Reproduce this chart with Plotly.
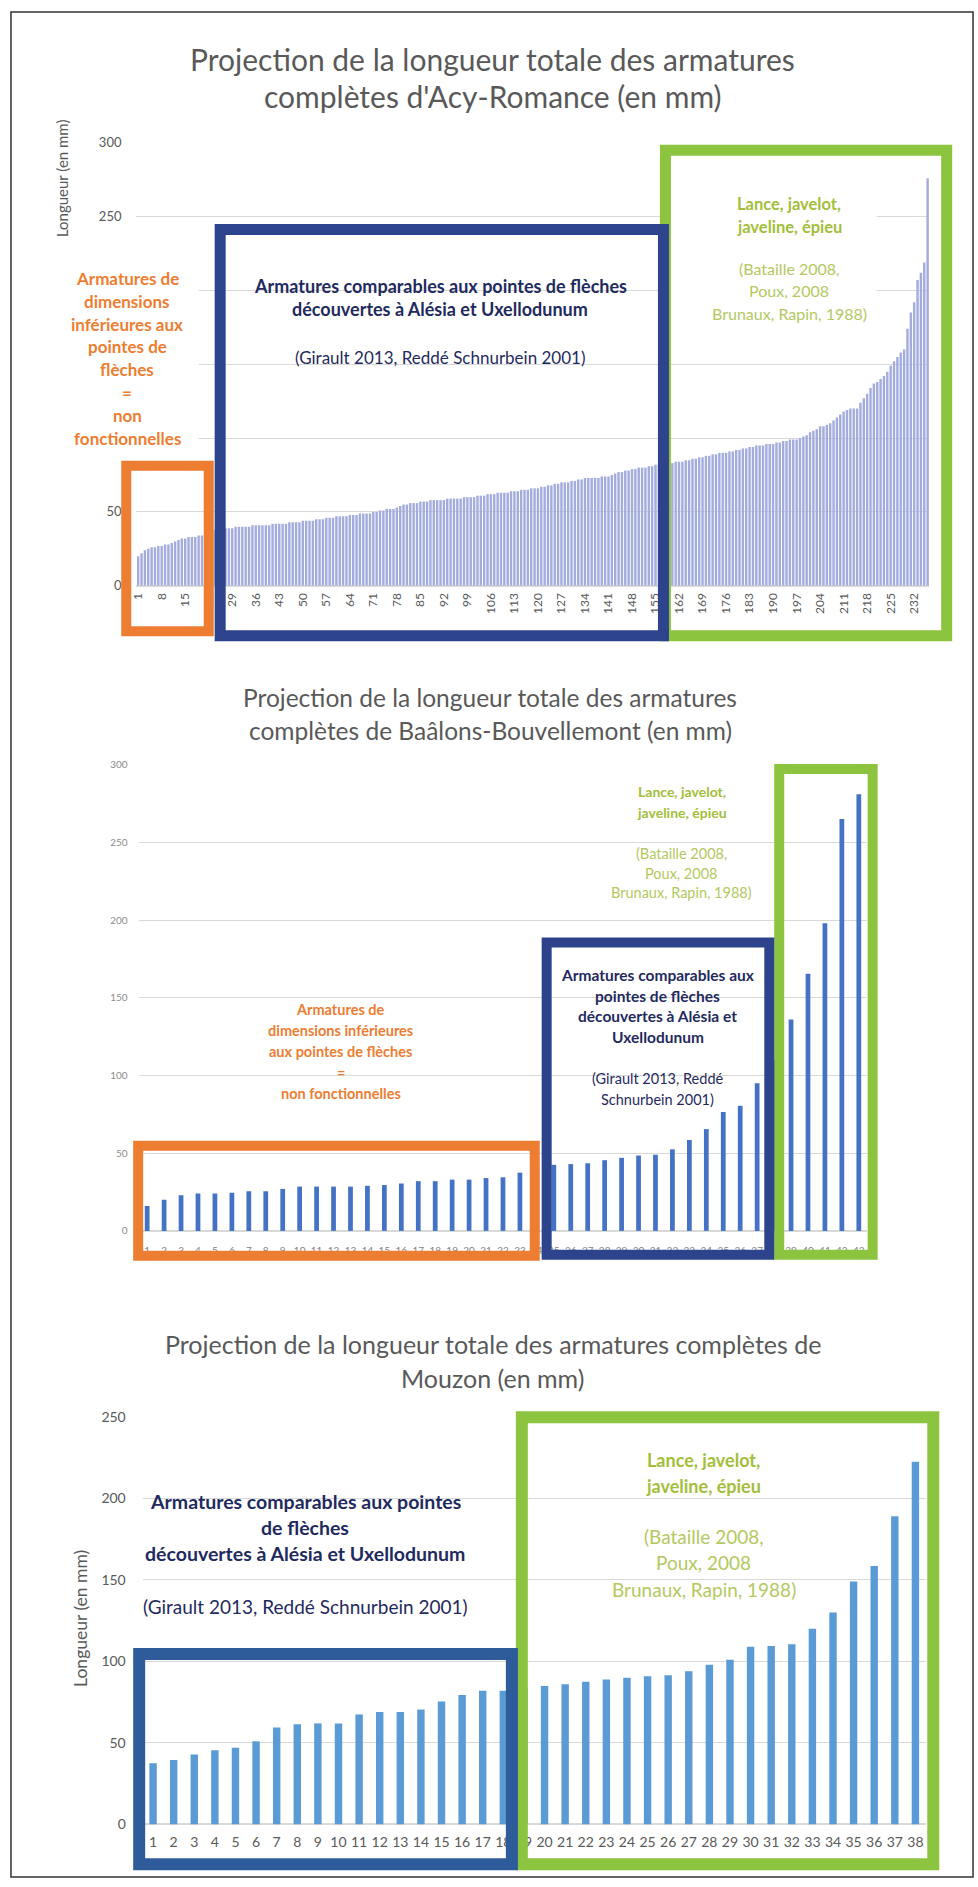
import plotly.graph_objects as go

W, H = 978, 1887
FONT = "Lato, 'Open Sans', sans-serif"

# ---------------- data ----------------
acy_values = [
    20, 22, 24, 25, 26, 26, 27, 27, 28, 28,
    29, 30, 31, 32, 32, 33, 33, 33, 34, 34,
    35, 37, 38, 38, 38, 39, 39, 39, 39, 40,
    40, 40, 40, 40, 41, 41, 41, 41, 41, 41,
    42, 42, 42, 42, 42, 43, 43, 43, 43, 44,
    44, 44, 44, 45, 45, 45, 46, 46, 46, 47,
    47, 47, 47, 48, 48, 48, 49, 49, 49, 49,
    50, 50, 51, 51, 52, 52, 52, 53, 54, 55,
    55, 56, 56, 56, 57, 57, 57, 58, 58, 58,
    58, 58, 59, 59, 59, 59, 59, 60, 60, 60,
    60, 61, 61, 61, 62, 62, 62, 63, 63, 63,
    63, 64, 64, 64, 65, 65, 65, 66, 66, 66,
    67, 67, 68, 68, 69, 69, 70, 70, 70, 71,
    71, 72, 72, 73, 73, 73, 73, 73, 74, 74,
    74, 75, 76, 77, 77, 78, 78, 79, 79, 80,
    80, 80, 81, 81, 82, 82, 82, 83, 83, 83,
    84, 84, 84, 85, 85, 86, 86, 87, 87, 88,
    88, 89, 89, 90, 90, 90, 91, 91, 92, 92,
    93, 93, 94, 94, 95, 95, 95, 96, 96, 96,
    97, 97, 98, 98, 99, 99, 99, 100, 101, 102,
    104, 105, 106, 108, 108, 109, 110, 112, 114, 116,
    118, 119, 120, 120, 120, 124, 127, 130, 134, 137,
    138, 140, 142, 145, 149, 152, 155, 158, 160, 174,
    185, 192, 207, 212, 219, 276,
]
acy_ids = list(range(1, len(acy_values) + 1))
acy_tick_labels = [1, 8, 15, 22, 29, 36, 43, 50, 57, 64, 71, 78, 85, 92, 99,
                   106, 113, 120, 127, 134, 141, 148, 155, 162, 169, 176, 183,
                   190, 197, 204, 211, 218, 225, 232]
# y labels of the top chart: 100-200 are hidden behind the orange legend text
acy_y_ticks = [0, 50, 100, 150, 200, 250, 300]
acy_y_text = ["0", "50", "", "", "", "250", "300"]

baalons_values = [16, 20, 23, 24, 24, 24.5, 25.5, 25.5, 27, 28.5,
                  28.5, 28.5, 28.5, 29, 29.5, 30.5, 32, 32, 33, 33,
                  34, 34.5, 37.5, 40, 42.5, 43, 43.5, 45.5, 47, 48.5,
                  49, 52.5, 58.5, 65.5, 76.5, 80.5, 95, 110, 136, 165.5,
                  198, 265, 281]
baalons_ids = list(range(1, len(baalons_values) + 1))

mouzon_values = [37.5, 39.5, 43, 45.5, 47, 51, 59.5, 61.5, 62, 62,
                 67.5, 69, 69, 70.5, 75.5, 79.5, 82, 82, 84, 85,
                 86, 87.5, 89, 90, 91, 91.5, 94, 98, 101, 109,
                 109.5, 110.5, 120, 130, 149, 158.5, 189, 222.5]
mouzon_ids = list(range(1, len(mouzon_values) + 1))

titles = {
    "acy": ["Projection de la longueur totale des armatures",
            "complètes d'Acy-Romance (en mm)"],
    "baalons": ["Projection de la longueur totale des armatures",
                "complètes de Baâlons-Bouvellemont (en mm)"],
    "mouzon": ["Projection de la longueur totale des armatures complètes de",
               "Mouzon (en mm)"],
}

# ---------------- helpers ----------------
def fx(p):
    return p / W


def fy(p):
    return 1 - p / H


ORANGE = "#ED7D31"
NAVY = "#2D438C"
NAVY_TXT = "#1F2A5E"
STEEL = "#2E5C9B"
GREEN = "#8CC43F"
GREEN_TXT = "#A3BE3A"
GREEN_TXT2 = "#B3C960"
GREY = "#595959"
GRID = "#D9D9D9"

annotations = []
shapes = []


def add_lines(lines, cx, y0, dy, size, color, bold=False):
    for i, t in enumerate(lines):
        txt = f"<b>{t}</b>" if bold else t
        annotations.append(dict(text=txt, x=fx(cx), y=fy(y0 + i * dy), xref="paper", yref="paper",
                                xanchor="center", yanchor="middle", showarrow=False,
                                borderpad=0,
                                font=dict(family=FONT, size=size, color=color)))


def add_box(x0, x1, y0, y1, color, width):
    shapes.append(dict(type="rect", xref="paper", yref="paper",
                       x0=fx(x0), x1=fx(x1), y0=fy(y1), y1=fy(y0),
                       line=dict(color=color, width=width), layer="above"))


def add_white(x0, x1, y0, y1):
    shapes.append(dict(type="rect", xref="paper", yref="paper",
                       x0=fx(x0), x1=fx(x1), y0=fy(y1), y1=fy(y0),
                       fillcolor="white", line=dict(width=0), layer="above"))


# ---------------- traces ----------------
fig = go.Figure()
fig.add_trace(go.Bar(x=acy_ids, y=acy_values, xaxis="x", yaxis="y",
                     marker=dict(color="#A3ACDD", line=dict(width=0)), width=0.72))
fig.add_trace(go.Bar(x=baalons_ids, y=baalons_values, xaxis="x2", yaxis="y2",
                     marker=dict(color="#4472C4", line=dict(width=0)), width=0.28))
fig.add_trace(go.Bar(x=mouzon_ids, y=mouzon_values, xaxis="x3", yaxis="y3",
                     marker=dict(color="#5B9BD5", line=dict(width=0)), width=0.36))

# ---------------- text ----------------
add_lines(titles["acy"], 490, 50, 38, 30, GREY)
add_lines(titles["baalons"], 487, 695, 33, 24.5, GREY)
add_lines(titles["mouzon"], 490, 1347, 34, 25, GREY)

annotations.append(dict(text="Longueur (en mm)", x=fx(57), y=fy(171), xref="paper", yref="paper",
                        textangle=-90, showarrow=False, xanchor="center", yanchor="middle",
                        font=dict(family=FONT, size=15, color=GREY)))
annotations.append(dict(text="Longueur (en mm)", x=fx(75), y=fy(1624), xref="paper", yref="paper",
                        textangle=-90, showarrow=False, xanchor="center", yanchor="middle",
                        font=dict(family=FONT, size=17.5, color=GREY)))

# top chart
add_white(40, 194, 245, 452)
add_white(668, 876, 180, 320)
add_lines(["Armatures de", "dimensions", "inférieures aux", "pointes de", "flèches", "=",
           "non", "fonctionnelles"], 122, 272, 23, 17, ORANGE, bold=True)
add_lines(["Armatures comparables aux pointes de flèches",
           "découvertes à Alésia et Uxellodunum"], 437, 280, 23, 18, NAVY_TXT, bold=True)
add_lines(["(Girault 2013, Reddé Schnurbein 2001)"], 437, 352, 23, 17, NAVY_TXT)
add_lines(["Lance, javelot,", "javeline, épieu"], 788, 197, 23, 16.5, GREEN_TXT, bold=True)
add_lines(["(Bataille 2008,", "Poux, 2008", "Brunaux, Rapin, 1988)"], 788, 262, 22.5, 16, GREEN_TXT2)

# middle chart
add_lines(["Armatures de", "dimensions inférieures", "aux pointes de flèches", "=",
           "non fonctionnelles"], 337, 1010, 21, 14.5, ORANGE, bold=True)
add_lines(["Armatures comparables aux", "pointes de flèches", "découvertes à Alésia et",
           "Uxellodunum"], 656, 975, 20.7, 15.5, NAVY_TXT, bold=True)
add_lines(["(Girault 2013, Reddé", "Schnurbein 2001)"], 656, 1079, 21, 14.5, NAVY_TXT)
add_lines(["Lance, javelot,", "javeline, épieu"], 680, 790, 21, 14, GREEN_TXT, bold=True)
add_lines(["(Bataille 2008,", "Poux, 2008", "Brunaux, Rapin, 1988)"], 680, 852, 20, 14.5, GREEN_TXT2)

# bottom chart
add_lines(["Armatures comparables aux pointes", "de flèches",
           "découvertes à Alésia et Uxellodunum"], 301, 1506, 26.5, 19.5, NAVY_TXT, bold=True)
add_lines(["(Girault 2013, Reddé Schnurbein 2001)"], 301, 1612, 26, 19, NAVY_TXT)
add_lines(["Lance, javelot,", "javeline, épieu"], 702, 1464, 26, 18, GREEN_TXT, bold=True)
add_lines(["(Bataille 2008,", "Poux, 2008", "Brunaux, Rapin, 1988)"], 702, 1541, 27, 19, GREEN_TXT2)

# ---------------- boxes ----------------
# top
add_box(663.5, 946.5, 142.5, 632.5, GREEN, 11)
add_box(215.5, 661.5, 222.5, 632.5, NAVY, 11)
add_box(121, 204, 461, 628, ORANGE, 10)
# middle
add_box(778, 872, 767, 1257, GREEN, 10)
add_box(544, 768, 942, 1257, NAVY, 10)
add_box(133, 532, 1147, 1258, ORANGE, 10)
# bottom
add_box(519, 933, 1421, 1872, GREEN, 12)
add_box(134, 509, 1660, 1872, STEEL, 12)
# frame
shapes.append(dict(type="rect", xref="paper", yref="paper", x0=fx(5), x1=fx(973),
                   y0=fy(1885), y1=fy(3), line=dict(color="#333333", width=1.5), layer="above"))

# ---------------- layout ----------------
tick_grey = dict(family=FONT, color=GREY)
fig.update_layout(
    width=W, height=H, margin=dict(l=0, r=0, t=0, b=0),
    paper_bgcolor="white", plot_bgcolor="white", showlegend=False,
    font=dict(family=FONT),
    xaxis=dict(domain=[fx(131.3), fx(929)], anchor="y", range=[0.5, len(acy_values) + 0.5],
               tickmode="array", tickvals=acy_tick_labels, ticktext=[str(v) for v in acy_tick_labels],
               tickangle=-90, tickfont=dict(size=12, **tick_grey), showgrid=False, zeroline=False,
               showline=False, ticks="", ticklabelstandoff=4),
    yaxis=dict(domain=[fy(582), fy(135)], anchor="x", range=[0, 300],
               tickmode="array", tickvals=acy_y_ticks, ticktext=acy_y_text,
               gridcolor=GRID, zeroline=True, zerolinecolor=GRID, showline=False,
               tickfont=dict(size=13, **tick_grey), ticks="", ticklabelstandoff=14),
    xaxis2=dict(domain=[fx(133.5), fx(866.6)], anchor="y2", range=[0.5, len(baalons_values) + 0.5],
                dtick=1, tickfont=dict(size=10, family=FONT, color="#7F7F7F"), showgrid=False,
                zeroline=False, showline=False, ticks="", ticklabelstandoff=12),
    yaxis2=dict(domain=[fy(1233), fy(762.6)], anchor="x2", range=[0, 300], dtick=50,
                gridcolor=GRID, zeroline=True, zerolinecolor=GRID, showline=False,
                tickfont=dict(size=10, family=FONT, color="#8C8C8C"), ticks="", ticklabelstandoff=10),
    xaxis3=dict(domain=[fx(137.6), fx(925.4)], anchor="y3", range=[0.5, len(mouzon_values) + 0.5],
                dtick=1, tickfont=dict(size=14, **tick_grey), showgrid=False,
                zeroline=False, showline=False, ticks="", ticklabelstandoff=8),
    yaxis3=dict(domain=[fy(1832), fy(1420.7)], anchor="x3", range=[0, 250], dtick=50,
                gridcolor=GRID, zeroline=True, zerolinecolor=GRID, showline=False,
                tickfont=dict(size=14, **tick_grey), ticks="", ticklabelstandoff=16),
    annotations=annotations,
    shapes=shapes,
)

# remove the browser's default 8px page margin so the figure sits at the page origin
fig.write_html("out.html", config={"displayModeBar": False},
               post_script="document.body.style.margin='0';document.body.style.padding='0';")
